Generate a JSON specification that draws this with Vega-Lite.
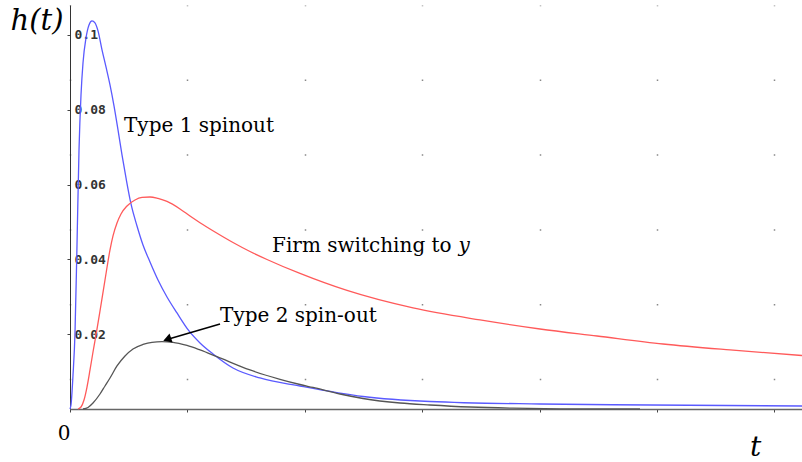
{
  "$schema": "https://vega.github.io/schema/vega-lite/v6.json",
  "width": 732,
  "height": 404,
  "autosize": {"type": "none"},
  "padding": {"left": 70, "top": 5, "right": 0, "bottom": 53},
  "background": "white",
  "config": {"view": {"stroke": null}},
  "datasets": {
    "curves": [
      {"series": "Type 1", "t": 0.0, "v": 0.0},
      {"series": "Type 1", "t": 0.0085, "v": 0.00107},
      {"series": "Type 1", "t": 0.0256, "v": 0.00909},
      {"series": "Type 1", "t": 0.0426, "v": 0.02032},
      {"series": "Type 1", "t": 0.0596, "v": 0.04385},
      {"series": "Type 1", "t": 0.0767, "v": 0.06925},
      {"series": "Type 1", "t": 0.0937, "v": 0.08396},
      {"series": "Type 1", "t": 0.1107, "v": 0.09251},
      {"series": "Type 1", "t": 0.1363, "v": 0.0992},
      {"series": "Type 1", "t": 0.1618, "v": 0.10267},
      {"series": "Type 1", "t": 0.1874, "v": 0.10374},
      {"series": "Type 1", "t": 0.2129, "v": 0.10321},
      {"series": "Type 1", "t": 0.2385, "v": 0.10107},
      {"series": "Type 1", "t": 0.2726, "v": 0.09599},
      {"series": "Type 1", "t": 0.3066, "v": 0.09144},
      {"series": "Type 1", "t": 0.3407, "v": 0.08663},
      {"series": "Type 1", "t": 0.3748, "v": 0.08102},
      {"series": "Type 1", "t": 0.4089, "v": 0.0746},
      {"series": "Type 1", "t": 0.4429, "v": 0.06791},
      {"series": "Type 1", "t": 0.477, "v": 0.06176},
      {"series": "Type 1", "t": 0.5196, "v": 0.05481},
      {"series": "Type 1", "t": 0.5707, "v": 0.04893},
      {"series": "Type 1", "t": 0.6218, "v": 0.04385},
      {"series": "Type 1", "t": 0.6814, "v": 0.0393},
      {"series": "Type 1", "t": 0.7496, "v": 0.03449},
      {"series": "Type 1", "t": 0.8262, "v": 0.02995},
      {"series": "Type 1", "t": 0.9114, "v": 0.02567},
      {"series": "Type 1", "t": 1.0136, "v": 0.02086},
      {"series": "Type 1", "t": 1.1073, "v": 0.01765},
      {"series": "Type 1", "t": 1.2181, "v": 0.01471},
      {"series": "Type 1", "t": 1.3884, "v": 0.01096},
      {"series": "Type 1", "t": 1.6184, "v": 0.00829},
      {"series": "Type 1", "t": 1.9591, "v": 0.00615},
      {"series": "Type 1", "t": 2.4957, "v": 0.00334},
      {"series": "Type 1", "t": 3.0664, "v": 0.00201},
      {"series": "Type 1", "t": 4.0034, "v": 0.00134},
      {"series": "Type 1", "t": 4.9404, "v": 0.00107},
      {"series": "Type 1", "t": 6.2351, "v": 0.0008},
      {"series": "Firm", "t": 0.0681, "v": 0.0},
      {"series": "Firm", "t": 0.0937, "v": 0.00053},
      {"series": "Firm", "t": 0.1192, "v": 0.00241},
      {"series": "Firm", "t": 0.1448, "v": 0.00588},
      {"series": "Firm", "t": 0.1704, "v": 0.01043},
      {"series": "Firm", "t": 0.1959, "v": 0.01524},
      {"series": "Firm", "t": 0.2274, "v": 0.02086},
      {"series": "Firm", "t": 0.2555, "v": 0.0262},
      {"series": "Firm", "t": 0.2981, "v": 0.03449},
      {"series": "Firm", "t": 0.3407, "v": 0.04251},
      {"series": "Firm", "t": 0.3663, "v": 0.04626},
      {"series": "Firm", "t": 0.4003, "v": 0.04973},
      {"series": "Firm", "t": 0.4344, "v": 0.05214},
      {"series": "Firm", "t": 0.4855, "v": 0.05428},
      {"series": "Firm", "t": 0.5537, "v": 0.05588},
      {"series": "Firm", "t": 0.6133, "v": 0.05655},
      {"series": "Firm", "t": 0.6814, "v": 0.05668},
      {"series": "Firm", "t": 0.7496, "v": 0.05628},
      {"series": "Firm", "t": 0.8262, "v": 0.05548},
      {"series": "Firm", "t": 0.937, "v": 0.05348},
      {"series": "Firm", "t": 1.0221, "v": 0.0516},
      {"series": "Firm", "t": 1.1073, "v": 0.04981},
      {"series": "Firm", "t": 1.2351, "v": 0.04733},
      {"series": "Firm", "t": 1.3884, "v": 0.04452},
      {"series": "Firm", "t": 1.5332, "v": 0.04211},
      {"series": "Firm", "t": 1.678, "v": 0.03997},
      {"series": "Firm", "t": 1.9591, "v": 0.03623},
      {"series": "Firm", "t": 2.3595, "v": 0.03168},
      {"series": "Firm", "t": 2.9216, "v": 0.02701},
      {"series": "Firm", "t": 3.4923, "v": 0.0238},
      {"series": "Firm", "t": 4.0034, "v": 0.02139},
      {"series": "Firm", "t": 4.4889, "v": 0.01952},
      {"series": "Firm", "t": 5.0511, "v": 0.01738},
      {"series": "Firm", "t": 5.6218, "v": 0.01578},
      {"series": "Firm", "t": 6.2351, "v": 0.0143},
      {"series": "Type 2", "t": 0.1107, "v": 0.0},
      {"series": "Type 2", "t": 0.1533, "v": 0.0004},
      {"series": "Type 2", "t": 0.1959, "v": 0.0016},
      {"series": "Type 2", "t": 0.2555, "v": 0.00401},
      {"series": "Type 2", "t": 0.2981, "v": 0.00615},
      {"series": "Type 2", "t": 0.3407, "v": 0.00829},
      {"series": "Type 2", "t": 0.4003, "v": 0.0115},
      {"series": "Type 2", "t": 0.4685, "v": 0.01417},
      {"series": "Type 2", "t": 0.5366, "v": 0.01604},
      {"series": "Type 2", "t": 0.6218, "v": 0.01725},
      {"series": "Type 2", "t": 0.6985, "v": 0.01783},
      {"series": "Type 2", "t": 0.7836, "v": 0.01799},
      {"series": "Type 2", "t": 0.8773, "v": 0.01783},
      {"series": "Type 2", "t": 0.9966, "v": 0.01698},
      {"series": "Type 2", "t": 1.1073, "v": 0.01578},
      {"series": "Type 2", "t": 1.2521, "v": 0.01398},
      {"series": "Type 2", "t": 1.5332, "v": 0.01043},
      {"series": "Type 2", "t": 1.7888, "v": 0.00794},
      {"series": "Type 2", "t": 1.9591, "v": 0.00655},
      {"series": "Type 2", "t": 2.0698, "v": 0.00575},
      {"series": "Type 2", "t": 2.2998, "v": 0.00401},
      {"series": "Type 2", "t": 2.4957, "v": 0.00281},
      {"series": "Type 2", "t": 2.8109, "v": 0.0016},
      {"series": "Type 2", "t": 3.0664, "v": 0.00107},
      {"series": "Type 2", "t": 3.4072, "v": 0.00053},
      {"series": "Type 2", "t": 3.7734, "v": 0.00021},
      {"series": "Type 2", "t": 4.1738, "v": 0.00005},
      {"series": "Type 2", "t": 4.8552, "v": 0.0}
    ],
    "labels": [
      {"label": "Type 1 spinout", "t": 0.46, "v": 0.0741},
      {"label": "Firm switching to", "t": 1.721, "v": 0.0421},
      {"label": "Type 2 spin-out", "t": 1.278, "v": 0.0233}
    ],
    "mathlabels": [
      {"label": "y", "t": 3.31, "v": 0.0421}
    ],
    "arrow": [
      {"t": 1.278, "v": 0.0227, "t2": 0.826, "v2": 0.0186}
    ],
    "arrowhead": [
      {"t": 0.828, "v": 0.01862}
    ]
  },
  "encoding": {
    "x": {
      "field": "t",
      "type": "quantitative",
      "scale": {"domain": [0, 6.235], "nice": false, "zero": false},
      "axis": {
        "values": [0, 1, 2, 3, 4, 5, 6],
        "labelExpr": "datum.value == 0 ? '0' : ''",
        "labelFont": "DejaVu Serif",
        "labelFontSize": 20,
        "labelColor": "#000",
        "labelAlign": "right",
        "labelBaseline": "middle",
        "labelDx": -1,
        "labelPadding": 21,
        "labelFlush": false,
        "labelOverlap": false,
        "tickSize": 3,
        "tickColor": "#444",
        "domainColor": "#666",
        "domainWidth": 1.5,
        "grid": true,
        "gridDash": [1.5, 73.31],
        "gridDashOffset": 0.75,
        "gridColor": "#888",
        "gridWidth": 1.5,
        "title": "t",
        "titleFont": "DejaVu Serif",
        "titleFontStyle": "italic",
        "titleFontWeight": "normal",
        "titleFontSize": 28,
        "titleColor": "#000",
        "titleX": 685,
        "titleY": 38,
        "titleBaseline": "middle",
        "titleAlign": "center"
      }
    },
    "y": {
      "field": "v",
      "type": "quantitative",
      "scale": {"domain": [0, 0.108], "nice": false},
      "axis": {
        "values": [0.02, 0.04, 0.06, 0.08, 0.1],
        "format": "~g",
        "labelFont": "DejaVu Sans Mono",
        "labelFontWeight": "bold",
        "labelFontSize": 13,
        "labelColor": "#333",
        "labelAlign": "left",
        "labelBaseline": "middle",
        "labelPadding": -7,
        "tickSize": 3,
        "tickColor": "#444",
        "domainColor": "#333",
        "domainWidth": 1,
        "grid": false,
        "title": "h(t)",
        "titleFont": "DejaVu Serif",
        "titleFontStyle": "italic",
        "titleFontWeight": "normal",
        "titleFontSize": 29,
        "titleColor": "#000",
        "titleAngle": 0,
        "titleAlign": "left",
        "titleBaseline": "middle",
        "titleX": -60,
        "titleY": 15
      }
    }
  },
  "layer": [
    {
      "data": {"name": "curves"},
      "mark": {"type": "line", "strokeWidth": 1.3, "interpolate": "monotone"},
      "encoding": {
        "color": {
          "field": "series",
          "type": "nominal",
          "scale": {"domain": ["Type 1", "Firm", "Type 2"], "range": ["#5a5aff", "#ff5a5a", "#555555"]},
          "legend": null
        },
        "detail": {"field": "series"}
      }
    },
    {
      "data": {"name": "labels"},
      "mark": {"type": "text", "font": "DejaVu Serif", "fontSize": 20, "align": "left", "baseline": "alphabetic", "color": "#000"},
      "encoding": {"text": {"field": "label"}}
    },
    {
      "data": {"name": "mathlabels"},
      "mark": {"type": "text", "font": "DejaVu Serif", "fontSize": 20, "fontStyle": "italic", "align": "left", "baseline": "alphabetic", "color": "#000"},
      "encoding": {"text": {"field": "label"}}
    },
    {
      "data": {"name": "arrow"},
      "mark": {"type": "rule", "strokeWidth": 1.5, "color": "#000"},
      "encoding": {"x2": {"field": "t2"}, "y2": {"field": "v2"}}
    },
    {
      "data": {"name": "arrowhead"},
      "mark": {"type": "point", "shape": "triangle-left", "filled": true, "size": 90, "angle": 341, "color": "#000", "opacity": 1},
      "encoding": {}
    }
  ]
}
